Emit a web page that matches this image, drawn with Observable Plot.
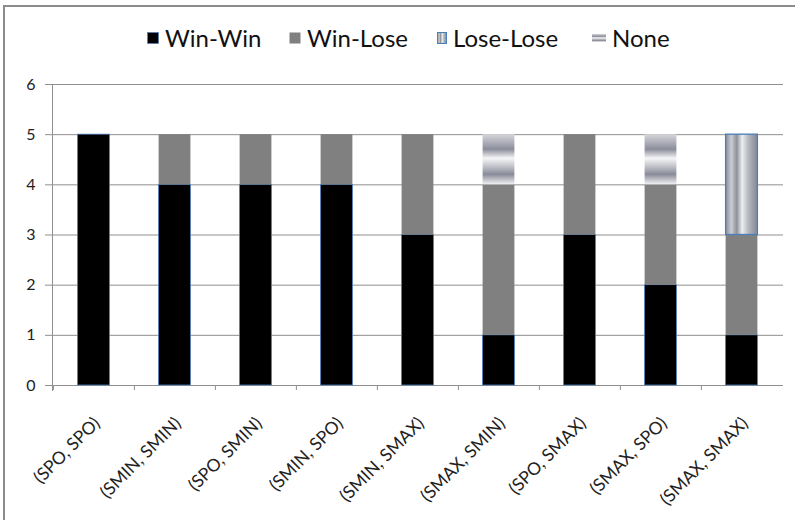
<!DOCTYPE html>
<html>
<head>
<meta charset="utf-8">
<script src="https://cdn.jsdelivr.net/npm/d3@7"></script>
<script src="https://cdn.jsdelivr.net/npm/@observablehq/plot@0.6"></script>
<style>
  html, body { margin: 0; padding: 0; background: #fff; overflow: hidden; }
  body { width: 795px; height: 520px; position: relative; font-family: Lato, "Open Sans", sans-serif; }
  #frame { position: absolute; left: 3px; top: 5px; width: 792px; height: 515px; box-sizing: border-box; border-top: 2px solid #8c8c8c; border-left: 2px solid #8c8c8c; }
  #legend { position: absolute; left: 0; top: 24px; width: 795px; height: 30px; font-size: 24px; line-height: 28px; color: #111; }
  #legend .item { position: absolute; top: 0; display: flex; align-items: center; white-space: nowrap; }
  #legend svg { margin-right: 6px; }
  #chart { position: absolute; left: 0; top: 0; width: 795px; height: 520px; overflow: hidden; }
  #chart svg { display: block; }
</style>
</head>
<body>
<div id="frame"></div>
<div id="legend"></div>
<div id="chart"></div>
<svg width="0" height="0" style="position:absolute; left:0; top:0">
  <defs>
    <!-- vertical metallic stripes for Lose-Lose -->
    <linearGradient id="gradLoseLose" x1="0" y1="0" x2="1" y2="0">
      <stop offset="0" stop-color="#8a8d98"/>
      <stop offset="0.18" stop-color="#cbcdd3"/>
      <stop offset="0.35" stop-color="#8e919c"/>
      <stop offset="0.52" stop-color="#eceef0"/>
      <stop offset="0.7" stop-color="#b9bbc2"/>
      <stop offset="0.86" stop-color="#9b9ea7"/>
      <stop offset="1" stop-color="#868a95"/>
    </linearGradient>
    <!-- horizontal metallic bands for None -->
    <linearGradient id="gradNone" x1="0" y1="0" x2="0" y2="1">
      <stop offset="0" stop-color="#d6d7db"/>
      <stop offset="0.3" stop-color="#8b8d9b"/>
      <stop offset="0.48" stop-color="#f6f6f8"/>
      <stop offset="0.62" stop-color="#c9cad0"/>
      <stop offset="0.8" stop-color="#898b99"/>
      <stop offset="1" stop-color="#f2f2f4"/>
    </linearGradient>
  </defs>
</svg>
<script>
// Strategy pairs along the x axis
const categories = ["(SPO, SPO)", "(SMIN, SMIN)", "(SPO, SMIN)", "(SMIN, SPO)", "(SMIN, SMAX)",
                    "(SMAX, SMIN)", "(SPO, SMAX)", "(SMAX, SPO)", "(SMAX, SMAX)"];
// Outcome counts per pair
const seriesNames = ["Win-Win", "Win-Lose", "Lose-Lose", "None"];
const winWin   = [5, 4, 4, 4, 3, 1, 3, 2, 1];
const winLose  = [0, 1, 1, 1, 2, 3, 2, 2, 2];
const loseLose = [0, 0, 0, 0, 0, 0, 0, 0, 2];
const none     = [0, 0, 0, 0, 0, 1, 0, 1, 0];
const yTicks   = [0, 1, 2, 3, 4, 5, 6];

const seriesFills = ["#000000", "#808080", "url(#gradLoseLose)", "url(#gradNone)"];
const seriesStrokeWidth = {"Win-Win": 0.8, "Win-Lose": 0, "Lose-Lose": 1.3, "None": 0};

const values = [winWin, winLose, loseLose, none];
const rows = [];
categories.forEach((c, i) => {
  seriesNames.forEach((s, j) => {
    if (values[j][i] > 0) rows.push({pair: c, outcome: s, count: values[j][i]});
  });
});

const W = 795, H = 520;
const mLeft = 52, mRight = 12, mTop = 84, mBottom = 135;
const band = (W - mLeft - mRight) / categories.length;
const barWidth = 32;
const inset = (band - barWidth) / 2;
const gridColor = "#8f8f8f";

const chart = Plot.plot({
  width: W,
  height: H,
  marginLeft: mLeft,
  marginRight: mRight,
  marginTop: mTop,
  marginBottom: mBottom,
  style: {fontFamily: "Lato, 'Open Sans', sans-serif", color: "#222", background: "transparent"},
  x: {domain: categories, padding: 0},
  y: {domain: [0, 6]},
  color: {domain: seriesNames, range: seriesFills},
  marks: [
    Plot.gridY(yTicks, {stroke: gridColor, strokeOpacity: 1}),
    Plot.frame({anchor: "left", stroke: gridColor, insetBottom: -5}),
    Plot.axisY(yTicks, {tickSize: 7, tickPadding: 10, stroke: gridColor, fontSize: 16, tickFormat: d => d, label: null}),
    Plot.axisX({tickSize: 5, text: null, dx: -band / 2, stroke: gridColor, label: null}),
    Plot.axisX({tickSize: 0, tickRotate: -45, tickPadding: 35, dx: 3, fontSize: 17.5, label: null}),
    Plot.barY(rows, Plot.stackY({
      x: "pair",
      y: "count",
      fill: "outcome",
      stroke: "#4a7ebb",
      strokeWidth: d => seriesStrokeWidth[d.outcome],
      insetLeft: inset,
      insetRight: inset
    }))
  ]
});
document.getElementById("chart").appendChild(chart);

// Legend above the plot: swatch + label per outcome
const legend = document.getElementById("legend");
const legendLeft = {"Win-Win": 147, "Win-Lose": 289, "Lose-Lose": 437, "None": 592};
const swatches = {
  "Win-Win": `<svg width="12" height="12"><rect x="0.5" y="0.5" width="11" height="11" fill="#000" stroke="#4a7ebb" stroke-width="0.6"/></svg>`,
  "Win-Lose": `<svg width="12" height="12"><rect x="0.5" y="0.5" width="11" height="11" fill="#808080"/></svg>`,
  "Lose-Lose": `<svg width="10" height="12"><rect x="0.5" y="0.5" width="9" height="11" fill="url(#gradLoseLose)" stroke="#4a7ebb" stroke-width="1"/></svg>`,
  "None": `<svg width="14" height="12"><rect x="0" y="2" width="14" height="8" fill="url(#gradNone)"/></svg>`
};
seriesNames.forEach(s => {
  const item = document.createElement("div");
  item.className = "item";
  item.style.left = legendLeft[s] + "px";
  item.innerHTML = `${swatches[s]}<span>${s}</span>`;
  legend.appendChild(item);
});
</script>
</body>
</html>
